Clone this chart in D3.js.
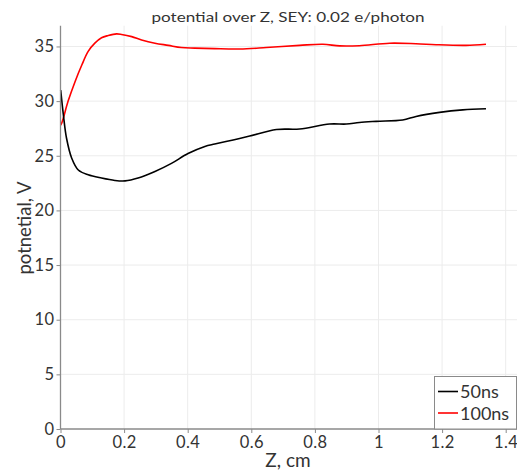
<!DOCTYPE html>
<html><head><meta charset="utf-8">
<script src="https://cdn.jsdelivr.net/npm/d3@7/dist/d3.min.js"></script>
<style>body{margin:0;background:#fff}svg{display:block}text{font-family:Lato,"Open Sans",sans-serif;fill:#333}</style>
</head><body><svg id="c" width="517" height="472"></svg>
<script>
const z50 = [0.0006,0.009,0.019,0.035,0.056,0.087,0.129,0.171,0.203,0.244,0.297,0.349,0.401,0.454,0.485,0.543,0.595,0.679,0.752,0.846,0.899,0.940,0.993,1.076,1.118,1.192,1.265,1.338];
const v50 = [31.0,28.75,26.6,24.8,23.7,23.26,22.96,22.74,22.7,22.96,23.56,24.3,25.2,25.85,26.07,26.45,26.8,27.4,27.45,27.9,27.9,28.05,28.15,28.27,28.6,28.97,29.2,29.3];
const z100 = [0.0,0.004,0.024,0.046,0.067,0.087,0.108,0.129,0.150,0.176,0.192,0.224,0.255,0.297,0.339,0.380,0.422,0.485,0.564,0.647,0.752,0.825,0.878,0.940,1.035,1.118,1.181,1.275,1.338];
const v100 = [27.8,28.0,30.0,31.8,33.3,34.55,35.3,35.8,36.0,36.15,36.1,35.9,35.6,35.3,35.1,34.9,34.85,34.8,34.77,34.9,35.1,35.2,35.05,35.07,35.3,35.25,35.16,35.1,35.2];
const xTicks = [0,0.2,0.4,0.6,0.8,1,1.2,1.4];
const yTicks = [0,5,10,15,20,25,30,35];
const seriesNames = ["50ns","100ns"];
const seriesColors = ["#000000","#ff0000"];
const titleText = "potential over Z, SEY: 0.02 e/photon";

const svg = d3.select("#c");
const x = d3.scaleLinear().domain([0,1.4]).range([60.5,505.7]);
const y = d3.scaleLinear().domain([0,36.9]).range([429,25.7]);
const L = 60.5, R = 517, T = 25.7, B = 429;

// grid
svg.append("g").selectAll("line").data(xTicks.slice(1)).join("line")
  .attr("x1",d=>x(d)).attr("x2",d=>x(d)).attr("y1",T).attr("y2",B)
  .attr("stroke","#ececec").attr("stroke-width",1);
svg.append("g").selectAll("line").data(yTicks.slice(1)).join("line")
  .attr("x1",L).attr("x2",R).attr("y1",d=>y(d)).attr("y2",d=>y(d))
  .attr("stroke","#ececec").attr("stroke-width",1);

// lines
const line = d3.line().x(d=>x(d[0])).y(d=>y(d[1])).curve(d3.curveCatmullRom.alpha(0.5));
const data = [z50.map((z,i)=>[z,v50[i]]), z100.map((z,i)=>[z,v100[i]])];
svg.append("path").datum(data[1]).attr("d",line).attr("fill","none").attr("stroke",seriesColors[1]).attr("stroke-width",1.6);
svg.append("path").datum(data[0]).attr("d",line).attr("fill","none").attr("stroke",seriesColors[0]).attr("stroke-width",1.6);

// axes
const xa = svg.append("g").attr("transform",`translate(0,${B})`)
  .call(d3.axisBottom(x).tickValues(xTicks).tickSize(4).tickPadding(3).tickFormat(d3.format("~g")));
const ya = svg.append("g").attr("transform",`translate(${L},0)`)
  .call(d3.axisLeft(y).tickValues(yTicks).tickSize(4).tickPadding(2).tickFormat(d3.format("~g")));
[xa,ya].forEach(a=>{
  a.select(".domain").attr("stroke","#8a8a8a").attr("stroke-width",1.3);
  a.selectAll(".tick line").attr("stroke","#8a8a8a");
  a.selectAll(".tick text").attr("font-size",16.5).attr("letter-spacing","0.4px").attr("fill","#333").attr("font-family","Lato,sans-serif");
});
xa.select(".domain").attr("d",`M${L},0H${R}`);
ya.select(".domain").attr("d",`M0,${B}V${T}`);

// labels
svg.append("text").attr("x",288).attr("y",466.5).attr("text-anchor","middle").attr("font-size",19).text("Z, cm");
svg.append("text").attr("transform","translate(31,228) rotate(-90)").attr("text-anchor","middle").attr("font-size",18.5).text("potnetial, V");
svg.append("text").attr("x",288).attr("y",22).attr("text-anchor","middle").attr("font-size",14)
  .attr("textLength",273).attr("lengthAdjust","spacingAndGlyphs").text(titleText);

// legend
const lg = svg.append("g");
lg.append("rect").attr("x",434.5).attr("y",376.5).attr("width",82).attr("height",52.5)
  .attr("fill","#fff").attr("stroke","#8a8a8a").attr("stroke-width",1);
seriesNames.forEach((n,i)=>{
  const yy = 391.5 + i*21.5;
  lg.append("line").attr("x1",438).attr("x2",458).attr("y1",yy).attr("y2",yy).attr("stroke",seriesColors[i]).attr("stroke-width",1.6);
  lg.append("text").attr("x",460).attr("y",yy+6.5).attr("font-size",18).text(n);
});
</script></body></html>
